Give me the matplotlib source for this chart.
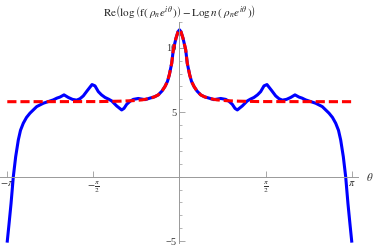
import numpy as np
import matplotlib
matplotlib.use("Agg")
import matplotlib.pyplot as plt
from matplotlib.ticker import FixedLocator, MultipleLocator

plt.rcParams['font.family'] = ['Liberation Serif', 'DejaVu Serif']
plt.rcParams['mathtext.fontset'] = 'stix'

# Re(log f - Log n), left half then right half
theta_left = [-3.142, -3.111, -3.074, -3.032, -2.989, -2.941, -2.901, -2.850, -2.791, -2.728,
              -2.605, -2.485, -2.303, -2.235, -2.180, -2.107, -2.029, -1.952, -1.876, -1.816,
              -1.755, -1.679, -1.596, -1.542, -1.481, -1.423, -1.359, -1.295, -1.237, -1.146,
              -1.055, -1.013, -0.963, -0.903, -0.843, -0.752, -0.684, -0.629, -0.538, -0.456,
              -0.387, -0.319, -0.265, -0.219, -0.186, -0.142, -0.113, -0.064, -0.027, 0.0]
re_left = [-5.0, -3.7, -2.1, 0.0, 1.55, 2.85, 3.6, 4.15, 4.6, 4.93,
           5.44, 5.7, 5.96, 6.1, 6.18, 6.35, 6.15, 6.0, 5.94, 6.05,
           6.27, 6.7, 7.15, 7.05, 6.6, 6.35, 6.15, 6.02, 5.88, 5.49,
           5.18, 5.3, 5.62, 5.85, 6.0, 6.07, 6.02, 5.98, 6.1, 6.2,
           6.35, 6.65, 7.0, 7.4, 7.9, 8.8, 9.85, 10.75, 11.25, 11.4]
theta_right = [0.027, 0.064, 0.113, 0.142, 0.186, 0.219, 0.265, 0.319, 0.387, 0.456,
               0.538, 0.629, 0.684, 0.752, 0.843, 0.903, 0.963, 1.013, 1.055, 1.146,
               1.237, 1.295, 1.359, 1.423, 1.481, 1.542, 1.596, 1.679, 1.755, 1.816,
               1.876, 1.952, 2.029, 2.107, 2.180, 2.235, 2.303, 2.485, 2.605, 2.728,
               2.791, 2.850, 2.901, 2.941, 2.989, 3.032, 3.074, 3.111, 3.142]
re_right = [11.25, 10.75, 9.85, 8.8, 7.9, 7.4, 7.0, 6.65, 6.35, 6.2,
            6.1, 5.98, 6.02, 6.07, 6.0, 5.85, 5.62, 5.3, 5.18, 5.49,
            5.88, 6.02, 6.15, 6.35, 6.6, 7.05, 7.15, 6.7, 6.27, 6.05,
            5.94, 6.0, 6.15, 6.35, 6.18, 6.1, 5.96, 5.7, 5.44, 4.93,
            4.6, 4.15, 3.6, 2.85, 1.55, 0.0, -2.1, -3.7, -5.0]

# Re(Log n), the red dashed curve
theta_log = [-3.142, -1.45, -1.09, -0.85, -0.684, -0.538, -0.456, -0.387, -0.319, -0.265,
             -0.219, -0.186, -0.142, -0.113, -0.064, -0.027, 0.0, 0.027, 0.064, 0.113,
             0.142, 0.186, 0.219, 0.265, 0.319, 0.387, 0.456, 0.538, 0.684, 0.85,
             1.09, 1.45, 3.142]
log_val = [5.82, 5.83, 5.86, 5.9, 5.96, 6.08, 6.2, 6.35, 6.65, 7.0,
           7.4, 7.9, 8.8, 9.85, 10.75, 11.25, 11.4, 11.25, 10.75, 9.85,
           8.8, 7.9, 7.4, 7.0, 6.65, 6.35, 6.2, 6.08, 5.96, 5.9,
           5.86, 5.83, 5.82]

fig = plt.figure(figsize=(3.74, 2.48), dpi=100)
ax = fig.add_axes([0.0, 0.02, 358 / 374, 0.891])

ax.plot(theta_left + theta_right, re_left + re_right, color='#0000ff', lw=2.2,
        solid_joinstyle='round')
ax.plot(theta_log, log_val, color='#ff0000', lw=2.2, linestyle=(0, (3.0, 1.3)))

ax.set_xlim(-3.275, 3.257)
ax.set_ylim(-5.15, 12.0)

for s in ['top', 'right']:
    ax.spines[s].set_visible(False)
ax.spines['left'].set_position(('data', 0))
ax.spines['bottom'].set_position(('data', 0))
for s in ['left', 'bottom']:
    ax.spines[s].set_color('#999999')
    ax.spines[s].set_linewidth(0.7)

ax.xaxis.set_major_locator(FixedLocator([-np.pi, -np.pi / 2, np.pi / 2, np.pi]))
ax.set_xticklabels([r'$-\pi$', r'$-\frac{\pi}{2}$', r'$\frac{\pi}{2}$', r'$\pi$'])
ax.yaxis.set_major_locator(FixedLocator([-5, 5, 10]))
ax.yaxis.set_minor_locator(MultipleLocator(1))
ax.tick_params(direction='in', color='#999999', labelcolor='#333333', labelsize=7.5,
               length=4, width=0.6)
ax.tick_params(which='minor', direction='in', color='#999999', length=2.5, width=0.5)
ax.tick_params(axis='x', pad=2)
ax.tick_params(axis='y', pad=2)
ax.set_facecolor('none')

ax.text(3.48, 0, r'$\theta$', fontsize=8, va='center', ha='center',
        color='#333333', clip_on=False)
fig.text(0.481, 0.955,
         r'$\mathrm{Re}\left(\log\left(\mathrm{f}(\;\rho_n e^{i\theta}\,)\right)'
         r' - \mathrm{Log}\,n\,(\;\rho_n e^{i\theta}\,)\right)$',
         fontsize=8, ha='center', va='center', color='#222222')

fig.savefig('out.png', dpi=100)
